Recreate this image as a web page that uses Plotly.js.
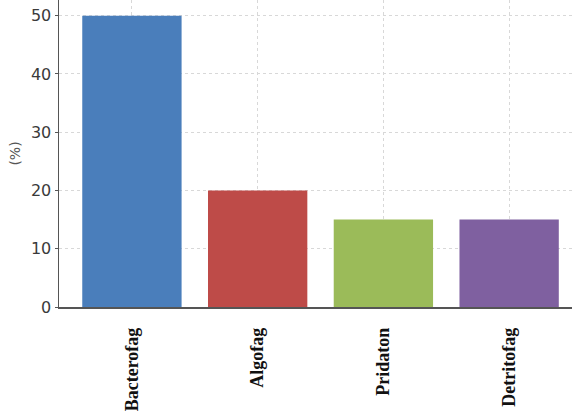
<!DOCTYPE html>
<html>
<head>
<meta charset="utf-8">
<script src="https://cdn.plot.ly/plotly-3.0.1.min.js"></script>
<style>
  html, body { margin: 0; padding: 0; background: #fff; }
  #chart { width: 572px; height: 420px; }
</style>
</head>
<body>
<div id="chart"></div>
<script>
// feeding groups and their share (%)
var categories = ['Bacterofag', 'Algofag', 'Pridaton', 'Detritofag'];
var shares = [50, 20, 15, 15];
var barColors = ['#4a7ebb', '#be4b48', '#9bbb59', '#7f60a0'];

var data = [{
  x: categories,
  y: shares,
  type: 'bar',
  marker: { color: barColors, line: { width: 0 } },
  hoverinfo: 'x+y'
}];

var layout = {
  width: 572,
  height: 420,
  margin: { l: 59, r: 0, t: 0, b: 113 },
  paper_bgcolor: '#ffffff',
  plot_bgcolor: '#ffffff',
  bargap: 0.21,
  showlegend: false,
  xaxis: {
    type: 'category',
    range: [-0.58, 3.5],
    tickangle: -90,
    tickfont: { family: 'Liberation Serif, DejaVu Serif, serif', size: 18, color: '#111111', weight: 'bold' },
    showgrid: true,
    gridcolor: '#d8d8d8',
    griddash: 'dot',
    gridwidth: 1,
    showline: true,
    linecolor: '#555555',
    linewidth: 1.5,
    ticks: '',
    ticklabelstandoff: 12
  },
  yaxis: {
    range: [0, 52.7],
    tickvals: [0, 10, 20, 30, 40, 50],
    tickfont: { family: 'DejaVu Sans, sans-serif', size: 16, color: '#3a3a3a' },
    showgrid: true,
    gridcolor: '#d8d8d8',
    griddash: 'dot',
    gridwidth: 1,
    zeroline: false,
    showline: true,
    linecolor: '#555555',
    linewidth: 1.5,
    ticks: 'outside',
    ticklen: 3,
    tickcolor: '#555555',
    title: { text: '(%)', font: { family: 'DejaVu Sans, sans-serif', size: 14, color: '#555555' }, standoff: 7 }
  }
};

Plotly.newPlot('chart', data, layout, { displayModeBar: false, staticPlot: true });
</script>
</body>
</html>
